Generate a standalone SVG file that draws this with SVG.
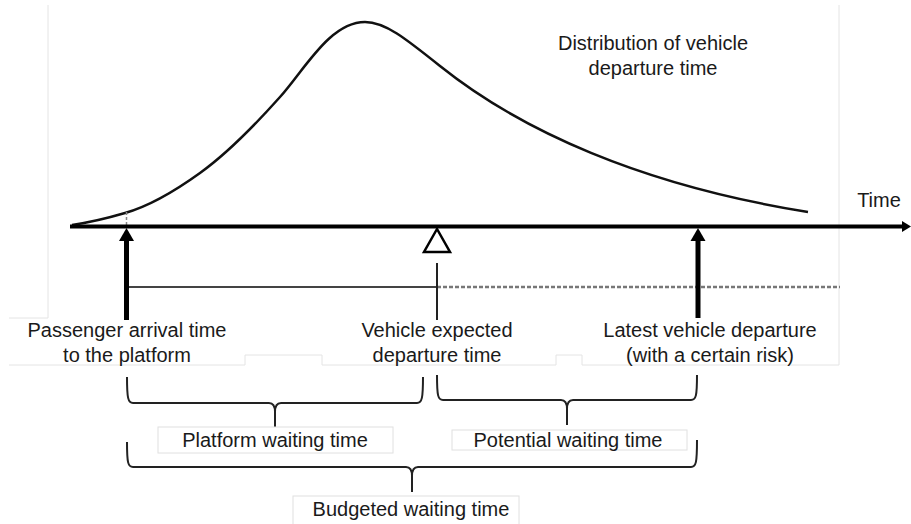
<svg xmlns="http://www.w3.org/2000/svg" width="911" height="524" viewBox="0 0 911 524">
<style>
text{font-family:"Liberation Sans",Arial,sans-serif;font-size:20px;fill:#1a1a1a;text-anchor:middle}
.frame{fill:none;stroke:#e4e4e4;stroke-width:1}
.brace{fill:none;stroke:#222;stroke-width:2;stroke-linejoin:round}
.box{fill:#fff;stroke:#e0e0e0;stroke-width:1}
</style>
<rect width="911" height="524" fill="#fff"/>
<g id="frame">
<path class="frame" d="M48,5 V318 H9"/>
<path class="frame" d="M839,5 V365"/>
<path class="frame" d="M9,365 H245 V355 H322 V365 H556 V355 H582 V365 H839"/>
</g>
<g id="curve">
<path d="M72,225 C92,222 108,218 125,213 C150,206 175,191 200,173 C225,155 255,125 280,97 C305,69 330,22 365,22 C385,22 405,38 440,66 C520,130 640,185 808,212" fill="none" stroke="#111" stroke-width="2.5"/>
<line x1="126.5" y1="212" x2="126.5" y2="225" stroke="#888" stroke-width="1.5" stroke-dasharray="3,2"/>
</g>
<g id="axis">
<line x1="70" y1="226.5" x2="904" y2="226.5" stroke="#000" stroke-width="4"/>
<polygon points="911,226.5 902,221 902,232" fill="#000"/>
<text x="879" y="207">Time</text>
</g>
<g id="connectors">
<line x1="127" y1="287" x2="437" y2="287" stroke="#444" stroke-width="2"/>
<line x1="437" y1="287" x2="840" y2="287" stroke="#777" stroke-width="2.5" stroke-dasharray="4,2"/>
<line x1="437" y1="263" x2="437" y2="320" stroke="#222" stroke-width="2"/>
<polygon points="437,229 424,252 450,252" fill="none" stroke="#000" stroke-width="2.5" stroke-linejoin="miter"/>
<path d="M126.5,320 V241" stroke="#000" stroke-width="5" fill="none"/>
<polygon points="126.5,228 119,241 134,241" fill="#000"/>
<path d="M698,318 V241" stroke="#000" stroke-width="5" fill="none"/>
<polygon points="698,228 690.5,241 705.5,241" fill="#000"/>
</g>
<g id="dist-label">
<text x="653" y="50">Distribution of vehicle</text>
<text x="653" y="75">departure time</text>
</g>
<g id="arrival">
<text x="127" y="337">Passenger arrival time</text>
<text x="127" y="362">to the platform</text>
</g>
<g id="expected">
<text x="437" y="337">Vehicle expected</text>
<text x="437" y="362">departure time</text>
</g>
<g id="latest">
<text x="710" y="337">Latest vehicle departure</text>
<text x="710" y="362">(with a certain risk)</text>
</g>
<g id="platform-wait">
<path class="brace" d="M127,377 C127,398 128,403 133,403 H269 C273,403 275,406 275,412 V427 M275,412 C275,406 277,403 281,403 H417 C422,403 423,398 423,377"/>
<rect class="box" x="158" y="427" width="235" height="26"/>
<text x="275" y="447">Platform waiting time</text>
</g>
<g id="potential-wait">
<path class="brace" d="M437,375 C437,396 438,400 443,400 H561 C565,400 567,403 567,409 V425 M567,409 C567,403 569,400 573,400 H691 C696,400 697,396 697,375"/>
<rect class="box" x="452" y="430" width="235" height="20"/>
<text x="568" y="447">Potential waiting time</text>
</g>
<g id="budgeted-wait">
<path class="brace" d="M127,442 C127,463 128,467 133,467 H406 C410,467 412,470 412,476 V492 M412,476 C412,470 414,467 418,467 H691 C696,467 697,463 697,440"/>
<rect class="box" x="293" y="496" width="226" height="30"/>
<text x="411" y="516">Budgeted waiting time</text>
</g>
</svg>
